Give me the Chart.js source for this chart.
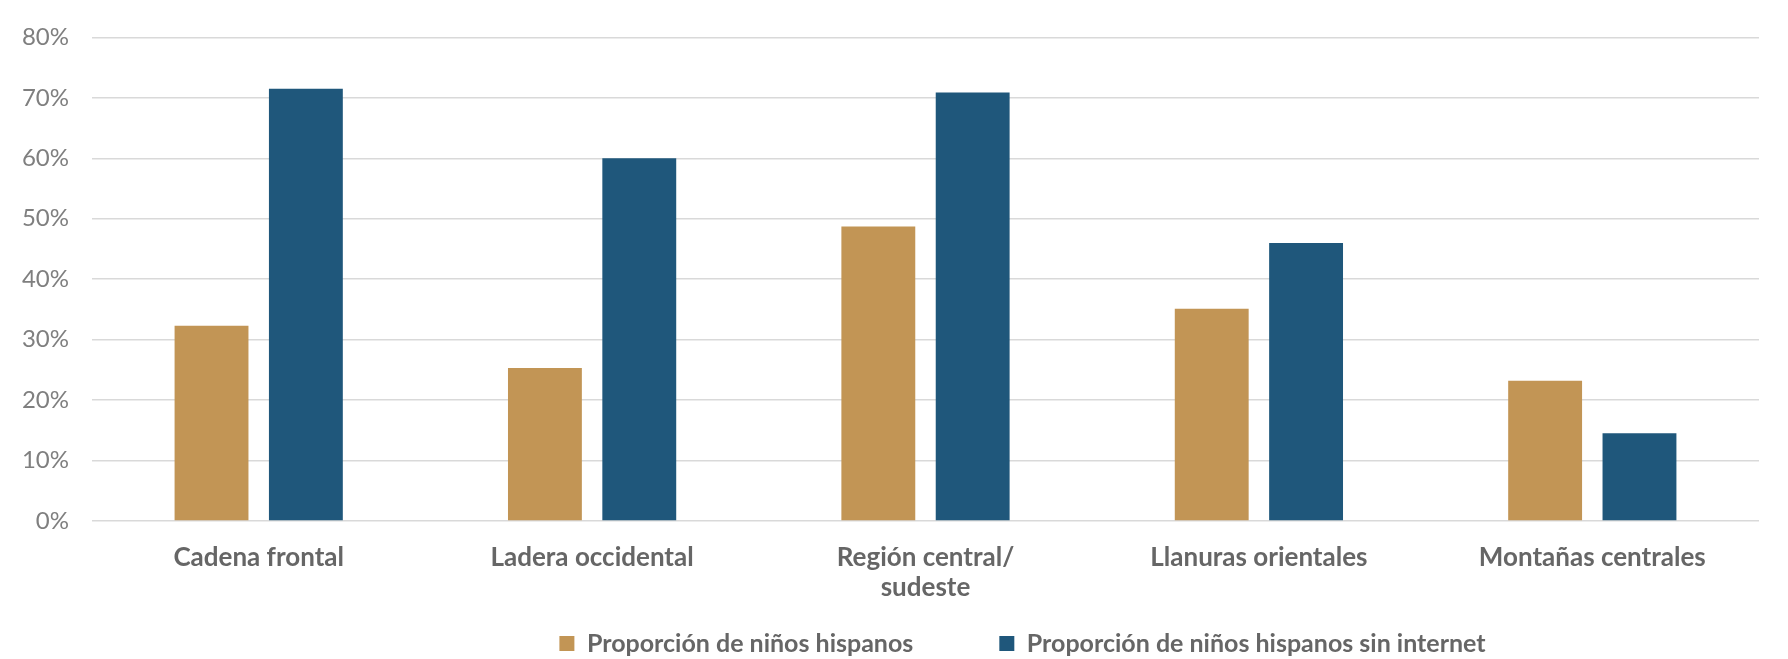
<!DOCTYPE html>
<html>
<head>
<meta charset="utf-8">
<script src="https://cdn.jsdelivr.net/npm/chart.js@4/dist/chart.umd.min.js"></script>
<style>
  html, body { margin: 0; padding: 0; background: #fff; }
  #wrap { width: 1788px; height: 659px; }
</style>
</head>
<body>
<div id="wrap"><canvas id="regionChart" width="1788" height="659"></canvas></div>
<script>
const regions = ['Cadena frontal', 'Ladera occidental', ['Región central/', 'sudeste'], 'Llanuras orientales', 'Montañas centrales'];
const hispanicShare = [32.3, 25.3, 48.7, 35.1, 23.2];
const noInternetShare = [71.5, 60.0, 70.9, 46.0, 14.5];
const yTicks = [0, 10, 20, 30, 40, 50, 60, 70, 80];

const labelColor = '#666666';
const tickColor = '#7f7f7f';
const gridColor = '#d9d9d9';

// legend sits lower-right of the default spot in the original,
// and the x axis needs its full height for the two-line label
const legendShift = {
    id: 'legendShift',
    afterLayout(chart) {
        const lg = chart.legend;
        if (!lg) return;
        lg.left += 143;
        lg.right += 143;
        lg.top = 545;
        lg.bottom = chart.height;
    }
};

const ctx = document.getElementById('regionChart').getContext('2d');
new Chart(ctx, {
    type: 'bar',
    data: {
        labels: regions,
        datasets: [
            {
                label: 'Proporción de niños hispanos',
                data: hispanicShare,
                backgroundColor: '#c29555',
                barPercentage: 0.783,
                categoryPercentage: 0.566
            },
            {
                label: 'Proporción de niños hispanos sin internet',
                data: noInternetShare,
                backgroundColor: '#1f577b',
                barPercentage: 0.783,
                categoryPercentage: 0.566
            }
        ]
    },
    options: {
        responsive: false,
        animation: false,
        layout: { padding: { top: 37, right: 29, bottom: 0, left: 0 } },
        plugins: {
            title: { display: false },
            tooltip: { enabled: false },
            legend: {
                position: 'bottom',
                maxHeight: 38,
                labels: {
                    color: labelColor,
                    font: { family: 'Lato', size: 25, weight: 'bold' },
                    boxWidth: 15,
                    boxHeight: 15,
                    padding: 86
                }
            }
        },
        scales: {
            x: {
                grid: { display: false },
                border: { display: false },
                ticks: {
                    color: labelColor,
                    font: { family: 'Lato', size: 26, weight: 'bold', lineHeight: 1.14 },
                    padding: 14,
                    maxRotation: 0,
                    autoSkip: false
                },
                afterFit(scale) { scale.height = 100; }
            },
            y: {
                min: 0,
                max: 80,
                afterBuildTicks(scale) {
                    scale.ticks = yTicks.map(v => ({ value: v }));
                },
                grid: { color: gridColor, lineWidth: 1.5, drawTicks: false },
                border: { display: false },
                ticks: {
                    color: tickColor,
                    font: { family: 'Lato', size: 24 },
                    padding: 23,
                    callback: function(value) { return value + '%'; }
                },
                afterFit(scale) { scale.width = 92; }
            }
        }
    },
    plugins: [legendShift]
});
</script>
</body>
</html>
